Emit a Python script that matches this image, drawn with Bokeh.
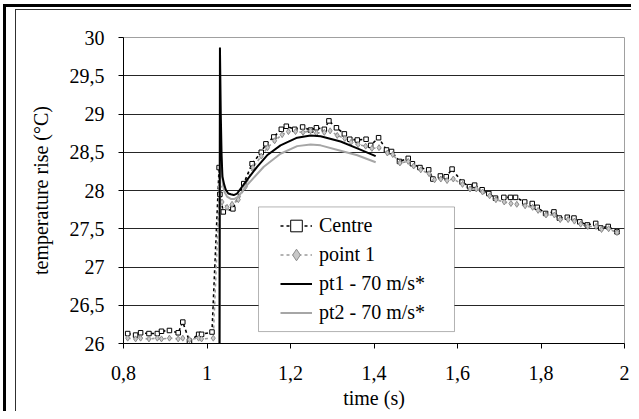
from bokeh.plotting import figure
from bokeh.models import (FixedTicker, CustomJSTickFormatter, BoxAnnotation, Legend,
                          LegendItem, Range1d)
from bokeh.embed import file_html
from bokeh.resources import INLINE

# ---------------- data ----------------
x_ticks = [0.8, 1.0, 1.2, 1.4, 1.6, 1.8, 2.0]
y_ticks = [26, 26.5, 27, 27.5, 28, 28.5, 29, 29.5, 30]

centre_t = [0.810, 0.829, 0.841, 0.861, 0.881, 0.891, 0.910, 0.931, 0.942, 0.958, 0.980, 0.987,
            1.012, 1.029, 1.031, 1.039, 1.062, 1.088, 1.108, 1.130, 1.141, 1.160, 1.178, 1.190,
            1.210, 1.229, 1.248, 1.262, 1.281, 1.292, 1.310, 1.329, 1.342, 1.360, 1.381, 1.392,
            1.411, 1.430, 1.442, 1.461, 1.482, 1.492, 1.510, 1.531, 1.541, 1.559, 1.573, 1.587,
            1.611, 1.629, 1.641, 1.659, 1.675, 1.691, 1.711, 1.727, 1.739, 1.761, 1.779, 1.791,
            1.811, 1.831, 1.844, 1.863, 1.879, 1.893, 1.911, 1.931, 1.943, 1.961, 1.982]
centre_v = [26.13, 26.11, 26.14, 26.13, 26.13, 26.16, 26.17, 26.14, 26.28, 26.03, 26.12, 26.12,
            26.15, 28.30, 27.95, 27.72, 27.76, 28.09, 28.35, 28.50, 28.61, 28.70, 28.80, 28.84,
            28.80, 28.83, 28.79, 28.82, 28.80, 28.91, 28.82, 28.74, 28.67, 28.66, 28.67, 28.59,
            28.69, 28.53, 28.51, 28.38, 28.42, 28.35, 28.30, 28.27, 28.15, 28.19, 28.18, 28.28,
            28.11, 28.05, 28.07, 28.01, 27.96, 27.90, 27.91, 27.91, 27.91, 27.85, 27.83, 27.78,
            27.70, 27.72, 27.64, 27.65, 27.64, 27.59, 27.55, 27.57, 27.51, 27.53, 27.46]

point1_t = [0.810, 0.829, 0.841, 0.861, 0.881, 0.891, 0.910, 0.931, 0.942, 0.958, 0.980, 0.987,
            1.015, 1.030, 1.036, 1.048, 1.060, 1.075, 1.092, 1.110, 1.130, 1.145, 1.162, 1.180,
            1.195, 1.212, 1.230, 1.248, 1.262, 1.281, 1.295, 1.312, 1.330, 1.345, 1.362, 1.380,
            1.395, 1.412, 1.432, 1.445, 1.462, 1.482, 1.495, 1.512, 1.532, 1.545, 1.560, 1.575,
            1.590, 1.612, 1.630, 1.645, 1.660, 1.677, 1.692, 1.712, 1.728, 1.742, 1.762, 1.780,
            1.793, 1.812, 1.832, 1.846, 1.865, 1.880, 1.895, 1.912, 1.932, 1.945, 1.962, 1.982]
point1_v = [26.07, 26.06, 26.07, 26.06, 26.07, 26.06, 26.07, 26.06, 26.07, 26.05, 26.07, 26.06,
            26.07, 28.05, 27.85, 27.78, 27.82, 27.88, 28.05, 28.30, 28.45, 28.56, 28.65, 28.73,
            28.77, 28.77, 28.76, 28.78, 28.75, 28.76, 28.78, 28.72, 28.68, 28.63, 28.60, 28.58,
            28.55, 28.56, 28.49, 28.47, 28.36, 28.38, 28.32, 28.27, 28.22, 28.14, 28.15, 28.13,
            28.15, 28.08, 28.02, 28.02, 27.98, 27.93, 27.88, 27.85, 27.83, 27.82, 27.80, 27.78,
            27.74, 27.68, 27.68, 27.62, 27.62, 27.60, 27.56, 27.53, 27.53, 27.49, 27.50, 27.45]

pt1_t = [1.030, 1.031, 1.033, 1.035, 1.037, 1.041, 1.045, 1.051, 1.057, 1.064, 1.072, 1.080,
         1.096, 1.120, 1.144, 1.176, 1.216, 1.248, 1.272, 1.320, 1.360, 1.404]
pt1_v = [26.00, 29.87, 29.00, 28.45, 28.18, 28.08, 28.01, 27.96, 27.95, 27.94, 27.96, 28.02,
         28.14, 28.31, 28.46, 28.59, 28.69, 28.72, 28.71, 28.64, 28.55, 28.45]

pt2_t = [1.030, 1.031, 1.033, 1.035, 1.038, 1.042, 1.048, 1.057, 1.066, 1.075, 1.096, 1.136,
         1.176, 1.216, 1.248, 1.272, 1.320, 1.360, 1.404]
pt2_v = [26.00, 28.95, 28.60, 28.30, 28.08, 27.98, 27.92, 27.89, 27.89, 27.92, 28.07, 28.31,
         28.48, 28.58, 28.60, 28.59, 28.52, 28.46, 28.37]

labels = ["Centre", "point 1", "pt1 - 70 m/s*", "pt2 - 70 m/s*"]

FONT = "'Liberation Serif', 'Times New Roman', serif"

p = figure(width=631, height=411, x_range=Range1d(0.8, 2.0), y_range=Range1d(26, 30),
           output_backend="svg", toolbar_location=None,
           min_border_left=123, min_border_right=7, min_border_top=37, min_border_bottom=67)
p.background_fill_color = "white"
p.border_fill_color = None
p.outline_line_color = "#a0a0a0"
p.outline_line_width = 1
# outer chart frame lines (thick black + thin dark grey), drawn as inset shadows
p.styles = {"box-shadow": ("inset 3px 0 0 0 white, inset 0 4px 0 0 white, "
                           "inset 6px 0 0 0 black, inset 0 7px 0 0 black, "
                           "inset 15px 0 0 0 white, inset 0 9px 0 0 white, "
                           "inset 16px 0 0 0 #303030, inset 0 10px 0 0 #303030")}

fmt = CustomJSTickFormatter(code="return (Math.round(tick*10)/10).toString().replace('.', ',');")

p.xgrid.visible = False
p.ygrid.ticker = FixedTicker(ticks=y_ticks)
p.ygrid.grid_line_color = "#262626"
p.ygrid.grid_line_width = 1

for ax, ticks in ((p.xaxis[0], x_ticks), (p.yaxis[0], y_ticks)):
    ax.ticker = FixedTicker(ticks=ticks)
    ax.formatter = fmt
    ax.major_tick_out = 5
    ax.major_tick_in = 0
    ax.minor_tick_line_color = None
    ax.axis_line_color = "black"
    ax.major_tick_line_color = "black"
    ax.major_label_text_font = FONT
    ax.major_label_text_font_size = "20px"
    ax.major_label_text_color = "black"
    ax.axis_label_text_font = FONT
    ax.axis_label_text_font_size = "20px"
    ax.axis_label_text_font_style = "normal"
    ax.axis_label_text_color = "black"

p.xaxis.axis_label = "time (s)"
p.yaxis.axis_label = "temperature rise (°C)"
p.xaxis.major_label_standoff = 17
p.xaxis.axis_label_standoff = 4
p.yaxis.major_label_standoff = 14
p.yaxis.axis_label_standoff = 15

# series
c_line = p.line(centre_t, centre_v, line_color="black", line_width=1.6, line_dash="3 3")
p1_line = p.line(point1_t, point1_v, line_color="#9a9a9a", line_width=1.6, line_dash="3 3")
c_mk = p.scatter(centre_t, centre_v, marker="square", size=4.5, fill_color="white",
                 line_color="black", line_width=1)
p1_mk = p.scatter(point1_t, point1_v, marker="diamond", size=6, fill_color="#c8c8c8",
                  line_color="#8c8c8c", line_width=1)
pt2_line = p.line(pt2_t, pt2_v, line_color="#a6a6a6", line_width=2)
pt1_line = p.line(pt1_t, pt1_v, line_color="black", line_width=2)

# legend frame
box = BoxAnnotation(left=1.1234, right=1.5928, bottom=26.156, top=27.785,
                    fill_color="white", fill_alpha=1, line_color="black", line_width=1,
                    level="annotation")
p.add_layout(box)

legend = Legend(items=[LegendItem(label=labels[0], renderers=[c_line, c_mk]),
                       LegendItem(label=labels[1], renderers=[p1_line, p1_mk]),
                       LegendItem(label=labels[2], renderers=[pt1_line]),
                       LegendItem(label=labels[3], renderers=[pt2_line])],
                location=(153, 12), padding=4, spacing=0, glyph_width=32, glyph_height=29,
                label_height=29, label_standoff=7, margin=0,
                label_text_font=FONT, label_text_font_size="20px", label_text_color="black",
                background_fill_alpha=0, border_line_alpha=0)
p.add_layout(legend)

open("out.html", "w").write(file_html(p, INLINE))
